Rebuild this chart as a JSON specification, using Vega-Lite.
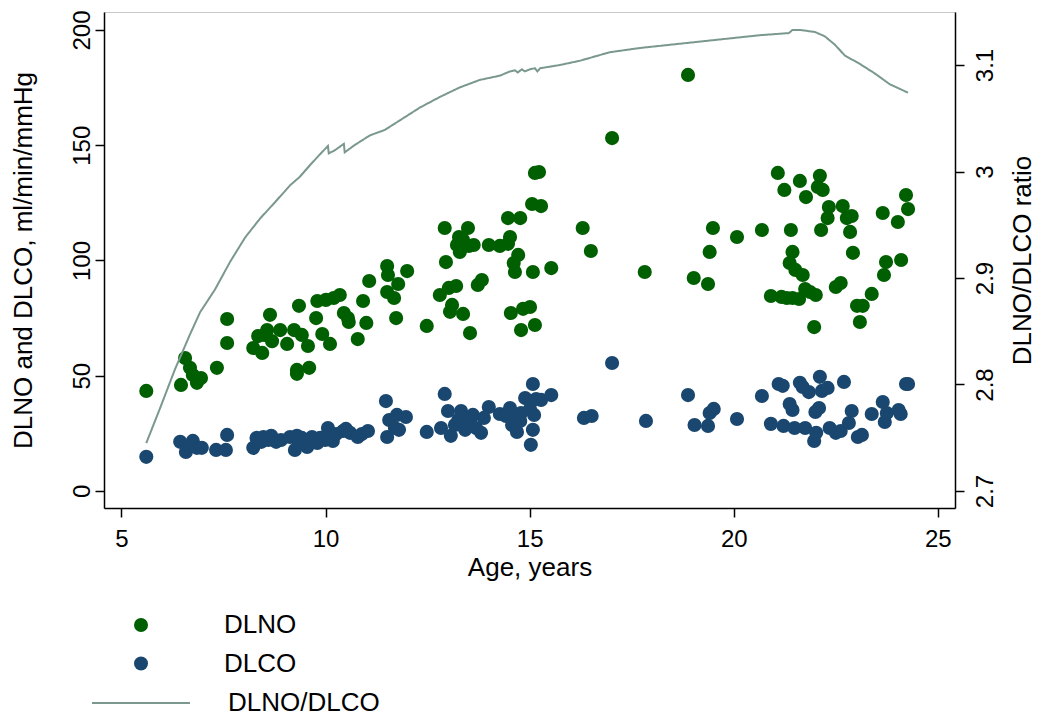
{
  "$schema": "https://vega.github.io/schema/vega-lite/v6.json",
  "width": 851,
  "height": 496,
  "autosize": {"type": "none"},
  "padding": {"left": 104, "top": 12, "right": 87, "bottom": 212},
  "background": "white",
  "config": {
    "font": "Liberation Sans",
    "view": {"stroke": "#c8c8c8", "strokeWidth": 1},
    "axis": {
      "grid": false,
      "domainColor": "black",
      "domainWidth": 1.5,
      "tickColor": "black",
      "tickWidth": 1.5,
      "tickSize": 9,
      "labelColor": "black",
      "titleColor": "black",
      "labelFont": "Liberation Sans",
      "titleFont": "Liberation Sans",
      "labelFontSize": 24,
      "titleFontSize": 26,
      "titleFontWeight": "normal"
    },
    "legend": {
      "labelFont": "Liberation Sans",
      "labelFontSize": 26,
      "labelColor": "black",
      "padding": 0
    }
  },
  "datasets": {
    "pts": [
      {"age": 5.61, "value": 43.4, "series": "DLNO"},
      {"age": 6.46, "value": 46.0, "series": "DLNO"},
      {"age": 6.56, "value": 57.7, "series": "DLNO"},
      {"age": 6.68, "value": 53.4, "series": "DLNO"},
      {"age": 6.75, "value": 50.3, "series": "DLNO"},
      {"age": 6.85, "value": 46.9, "series": "DLNO"},
      {"age": 6.95, "value": 49.0, "series": "DLNO"},
      {"age": 7.34, "value": 53.4, "series": "DLNO"},
      {"age": 7.59, "value": 64.2, "series": "DLNO"},
      {"age": 7.59, "value": 74.6, "series": "DLNO"},
      {"age": 8.23, "value": 62.0, "series": "DLNO"},
      {"age": 8.35, "value": 67.2, "series": "DLNO"},
      {"age": 8.45, "value": 59.9, "series": "DLNO"},
      {"age": 8.50, "value": 67.7, "series": "DLNO"},
      {"age": 8.57, "value": 69.8, "series": "DLNO"},
      {"age": 8.64, "value": 76.4, "series": "DLNO"},
      {"age": 8.69, "value": 65.0, "series": "DLNO"},
      {"age": 8.89, "value": 69.8, "series": "DLNO"},
      {"age": 9.06, "value": 63.8, "series": "DLNO"},
      {"age": 9.23, "value": 69.8, "series": "DLNO"},
      {"age": 9.30, "value": 52.5, "series": "DLNO"},
      {"age": 9.30, "value": 50.8, "series": "DLNO"},
      {"age": 9.35, "value": 80.3, "series": "DLNO"},
      {"age": 9.42, "value": 67.7, "series": "DLNO"},
      {"age": 9.57, "value": 62.9, "series": "DLNO"},
      {"age": 9.60, "value": 53.4, "series": "DLNO"},
      {"age": 9.77, "value": 75.0, "series": "DLNO"},
      {"age": 9.80, "value": 82.4, "series": "DLNO"},
      {"age": 9.92, "value": 68.1, "series": "DLNO"},
      {"age": 10.01, "value": 82.9, "series": "DLNO"},
      {"age": 10.11, "value": 63.8, "series": "DLNO"},
      {"age": 10.20, "value": 83.7, "series": "DLNO"},
      {"age": 10.35, "value": 85.0, "series": "DLNO"},
      {"age": 10.45, "value": 77.2, "series": "DLNO"},
      {"age": 10.55, "value": 75.0, "series": "DLNO"},
      {"age": 10.57, "value": 73.3, "series": "DLNO"},
      {"age": 10.79, "value": 65.9, "series": "DLNO"},
      {"age": 10.92, "value": 82.4, "series": "DLNO"},
      {"age": 11.00, "value": 72.9, "series": "DLNO"},
      {"age": 11.07, "value": 91.1, "series": "DLNO"},
      {"age": 11.51, "value": 97.6, "series": "DLNO"},
      {"age": 11.51, "value": 86.3, "series": "DLNO"},
      {"age": 11.53, "value": 93.7, "series": "DLNO"},
      {"age": 11.68, "value": 83.7, "series": "DLNO"},
      {"age": 11.73, "value": 75.0, "series": "DLNO"},
      {"age": 11.78, "value": 89.8, "series": "DLNO"},
      {"age": 12.00, "value": 95.4, "series": "DLNO"},
      {"age": 12.48, "value": 71.6, "series": "DLNO"},
      {"age": 12.80, "value": 85.0, "series": "DLNO"},
      {"age": 12.92, "value": 114.1, "series": "DLNO"},
      {"age": 12.95, "value": 99.3, "series": "DLNO"},
      {"age": 13.02, "value": 88.1, "series": "DLNO"},
      {"age": 13.05, "value": 77.7, "series": "DLNO"},
      {"age": 13.10, "value": 80.7, "series": "DLNO"},
      {"age": 13.20, "value": 88.9, "series": "DLNO"},
      {"age": 13.22, "value": 106.7, "series": "DLNO"},
      {"age": 13.27, "value": 110.2, "series": "DLNO"},
      {"age": 13.29, "value": 103.7, "series": "DLNO"},
      {"age": 13.37, "value": 108.9, "series": "DLNO"},
      {"age": 13.37, "value": 76.8, "series": "DLNO"},
      {"age": 13.49, "value": 114.1, "series": "DLNO"},
      {"age": 13.51, "value": 106.3, "series": "DLNO"},
      {"age": 13.54, "value": 68.5, "series": "DLNO"},
      {"age": 13.63, "value": 106.7, "series": "DLNO"},
      {"age": 13.73, "value": 89.4, "series": "DLNO"},
      {"age": 13.83, "value": 91.5, "series": "DLNO"},
      {"age": 14.00, "value": 106.7, "series": "DLNO"},
      {"age": 14.27, "value": 106.3, "series": "DLNO"},
      {"age": 14.47, "value": 107.2, "series": "DLNO"},
      {"age": 14.47, "value": 118.4, "series": "DLNO"},
      {"age": 14.52, "value": 110.2, "series": "DLNO"},
      {"age": 14.54, "value": 77.2, "series": "DLNO"},
      {"age": 14.61, "value": 98.9, "series": "DLNO"},
      {"age": 14.64, "value": 95.0, "series": "DLNO"},
      {"age": 14.72, "value": 102.4, "series": "DLNO"},
      {"age": 14.77, "value": 118.4, "series": "DLNO"},
      {"age": 14.79, "value": 69.8, "series": "DLNO"},
      {"age": 14.84, "value": 79.0, "series": "DLNO"},
      {"age": 15.01, "value": 79.8, "series": "DLNO"},
      {"age": 15.06, "value": 124.5, "series": "DLNO"},
      {"age": 15.08, "value": 95.0, "series": "DLNO"},
      {"age": 15.13, "value": 72.0, "series": "DLNO"},
      {"age": 15.13, "value": 138.0, "series": "DLNO"},
      {"age": 15.23, "value": 138.4, "series": "DLNO"},
      {"age": 15.28, "value": 123.6, "series": "DLNO"},
      {"age": 15.53, "value": 96.7, "series": "DLNO"},
      {"age": 16.30, "value": 114.1, "series": "DLNO"},
      {"age": 16.50, "value": 104.1, "series": "DLNO"},
      {"age": 17.02, "value": 153.1, "series": "DLNO"},
      {"age": 17.82, "value": 95.0, "series": "DLNO"},
      {"age": 18.88, "value": 180.5, "series": "DLNO"},
      {"age": 19.02, "value": 92.4, "series": "DLNO"},
      {"age": 19.37, "value": 89.8, "series": "DLNO"},
      {"age": 19.41, "value": 103.7, "series": "DLNO"},
      {"age": 19.49, "value": 114.1, "series": "DLNO"},
      {"age": 20.08, "value": 110.2, "series": "DLNO"},
      {"age": 20.69, "value": 113.2, "series": "DLNO"},
      {"age": 20.91, "value": 84.6, "series": "DLNO"},
      {"age": 21.08, "value": 138.0, "series": "DLNO"},
      {"age": 21.17, "value": 84.2, "series": "DLNO"},
      {"age": 21.24, "value": 130.6, "series": "DLNO"},
      {"age": 21.30, "value": 83.7, "series": "DLNO"},
      {"age": 21.37, "value": 98.9, "series": "DLNO"},
      {"age": 21.40, "value": 113.2, "series": "DLNO"},
      {"age": 21.44, "value": 103.7, "series": "DLNO"},
      {"age": 21.44, "value": 83.7, "series": "DLNO"},
      {"age": 21.51, "value": 95.9, "series": "DLNO"},
      {"age": 21.60, "value": 83.3, "series": "DLNO"},
      {"age": 21.62, "value": 134.5, "series": "DLNO"},
      {"age": 21.69, "value": 93.7, "series": "DLNO"},
      {"age": 21.77, "value": 127.5, "series": "DLNO"},
      {"age": 21.75, "value": 87.6, "series": "DLNO"},
      {"age": 21.87, "value": 86.3, "series": "DLNO"},
      {"age": 21.97, "value": 71.1, "series": "DLNO"},
      {"age": 22.01, "value": 85.0, "series": "DLNO"},
      {"age": 22.06, "value": 131.9, "series": "DLNO"},
      {"age": 22.11, "value": 136.7, "series": "DLNO"},
      {"age": 22.14, "value": 113.2, "series": "DLNO"},
      {"age": 22.18, "value": 130.6, "series": "DLNO"},
      {"age": 22.30, "value": 118.4, "series": "DLNO"},
      {"age": 22.33, "value": 123.2, "series": "DLNO"},
      {"age": 22.50, "value": 88.5, "series": "DLNO"},
      {"age": 22.62, "value": 90.2, "series": "DLNO"},
      {"age": 22.67, "value": 123.6, "series": "DLNO"},
      {"age": 22.77, "value": 118.4, "series": "DLNO"},
      {"age": 22.85, "value": 112.4, "series": "DLNO"},
      {"age": 22.89, "value": 119.3, "series": "DLNO"},
      {"age": 22.92, "value": 103.3, "series": "DLNO"},
      {"age": 23.02, "value": 80.3, "series": "DLNO"},
      {"age": 23.09, "value": 73.3, "series": "DLNO"},
      {"age": 23.16, "value": 80.3, "series": "DLNO"},
      {"age": 23.38, "value": 85.5, "series": "DLNO"},
      {"age": 23.65, "value": 120.6, "series": "DLNO"},
      {"age": 23.68, "value": 93.7, "series": "DLNO"},
      {"age": 23.73, "value": 99.3, "series": "DLNO"},
      {"age": 24.02, "value": 116.7, "series": "DLNO"},
      {"age": 24.10, "value": 100.2, "series": "DLNO"},
      {"age": 24.22, "value": 128.4, "series": "DLNO"},
      {"age": 24.27, "value": 122.3, "series": "DLNO"},
      {"age": 5.61, "value": 14.8, "series": "DLCO"},
      {"age": 6.44, "value": 21.3, "series": "DLCO"},
      {"age": 6.58, "value": 16.9, "series": "DLCO"},
      {"age": 6.68, "value": 19.5, "series": "DLCO"},
      {"age": 6.75, "value": 21.7, "series": "DLCO"},
      {"age": 6.85, "value": 18.7, "series": "DLCO"},
      {"age": 6.97, "value": 18.7, "series": "DLCO"},
      {"age": 7.32, "value": 17.8, "series": "DLCO"},
      {"age": 7.56, "value": 17.8, "series": "DLCO"},
      {"age": 7.59, "value": 24.3, "series": "DLCO"},
      {"age": 8.23, "value": 18.7, "series": "DLCO"},
      {"age": 8.31, "value": 23.0, "series": "DLCO"},
      {"age": 8.43, "value": 21.3, "series": "DLCO"},
      {"age": 8.48, "value": 23.4, "series": "DLCO"},
      {"age": 8.60, "value": 22.1, "series": "DLCO"},
      {"age": 8.67, "value": 23.9, "series": "DLCO"},
      {"age": 8.79, "value": 21.3, "series": "DLCO"},
      {"age": 8.91, "value": 22.1, "series": "DLCO"},
      {"age": 9.13, "value": 23.4, "series": "DLCO"},
      {"age": 9.25, "value": 17.8, "series": "DLCO"},
      {"age": 9.30, "value": 23.9, "series": "DLCO"},
      {"age": 9.35, "value": 20.8, "series": "DLCO"},
      {"age": 9.42, "value": 23.0, "series": "DLCO"},
      {"age": 9.55, "value": 19.1, "series": "DLCO"},
      {"age": 9.67, "value": 23.4, "series": "DLCO"},
      {"age": 9.80, "value": 20.8, "series": "DLCO"},
      {"age": 9.87, "value": 23.0, "series": "DLCO"},
      {"age": 9.99, "value": 22.1, "series": "DLCO"},
      {"age": 10.06, "value": 27.3, "series": "DLCO"},
      {"age": 10.18, "value": 21.7, "series": "DLCO"},
      {"age": 10.26, "value": 24.7, "series": "DLCO"},
      {"age": 10.43, "value": 26.0, "series": "DLCO"},
      {"age": 10.50, "value": 26.9, "series": "DLCO"},
      {"age": 10.60, "value": 25.2, "series": "DLCO"},
      {"age": 10.79, "value": 23.4, "series": "DLCO"},
      {"age": 10.89, "value": 24.7, "series": "DLCO"},
      {"age": 11.04, "value": 26.0, "series": "DLCO"},
      {"age": 11.48, "value": 39.0, "series": "DLCO"},
      {"age": 11.51, "value": 23.4, "series": "DLCO"},
      {"age": 11.56, "value": 30.8, "series": "DLCO"},
      {"age": 11.70, "value": 27.3, "series": "DLCO"},
      {"age": 11.75, "value": 33.0, "series": "DLCO"},
      {"age": 11.80, "value": 26.5, "series": "DLCO"},
      {"age": 11.97, "value": 32.1, "series": "DLCO"},
      {"age": 12.48, "value": 25.6, "series": "DLCO"},
      {"age": 12.83, "value": 27.3, "series": "DLCO"},
      {"age": 12.92, "value": 42.1, "series": "DLCO"},
      {"age": 13.00, "value": 34.7, "series": "DLCO"},
      {"age": 13.07, "value": 23.9, "series": "DLCO"},
      {"age": 13.17, "value": 28.6, "series": "DLCO"},
      {"age": 13.25, "value": 30.8, "series": "DLCO"},
      {"age": 13.32, "value": 34.7, "series": "DLCO"},
      {"age": 13.42, "value": 26.5, "series": "DLCO"},
      {"age": 13.54, "value": 30.8, "series": "DLCO"},
      {"age": 13.61, "value": 33.0, "series": "DLCO"},
      {"age": 13.69, "value": 27.3, "series": "DLCO"},
      {"age": 13.81, "value": 25.2, "series": "DLCO"},
      {"age": 13.88, "value": 31.7, "series": "DLCO"},
      {"age": 14.00, "value": 36.4, "series": "DLCO"},
      {"age": 14.27, "value": 33.4, "series": "DLCO"},
      {"age": 14.42, "value": 32.5, "series": "DLCO"},
      {"age": 14.52, "value": 36.0, "series": "DLCO"},
      {"age": 14.57, "value": 28.6, "series": "DLCO"},
      {"age": 14.61, "value": 31.7, "series": "DLCO"},
      {"age": 14.69, "value": 25.6, "series": "DLCO"},
      {"age": 14.77, "value": 30.4, "series": "DLCO"},
      {"age": 14.79, "value": 33.8, "series": "DLCO"},
      {"age": 14.89, "value": 40.3, "series": "DLCO"},
      {"age": 15.01, "value": 35.6, "series": "DLCO"},
      {"age": 15.08, "value": 46.4, "series": "DLCO"},
      {"age": 15.11, "value": 33.0, "series": "DLCO"},
      {"age": 15.08, "value": 26.5, "series": "DLCO"},
      {"age": 15.03, "value": 20.0, "series": "DLCO"},
      {"age": 15.16, "value": 39.9, "series": "DLCO"},
      {"age": 15.28, "value": 39.5, "series": "DLCO"},
      {"age": 15.53, "value": 41.6, "series": "DLCO"},
      {"age": 16.33, "value": 31.7, "series": "DLCO"},
      {"age": 16.52, "value": 32.5, "series": "DLCO"},
      {"age": 17.02, "value": 55.5, "series": "DLCO"},
      {"age": 17.85, "value": 30.4, "series": "DLCO"},
      {"age": 18.88, "value": 41.6, "series": "DLCO"},
      {"age": 19.04, "value": 28.6, "series": "DLCO"},
      {"age": 19.37, "value": 28.2, "series": "DLCO"},
      {"age": 19.41, "value": 33.8, "series": "DLCO"},
      {"age": 19.51, "value": 35.6, "series": "DLCO"},
      {"age": 20.08, "value": 31.2, "series": "DLCO"},
      {"age": 20.69, "value": 41.2, "series": "DLCO"},
      {"age": 20.91, "value": 29.1, "series": "DLCO"},
      {"age": 21.10, "value": 46.4, "series": "DLCO"},
      {"age": 21.20, "value": 45.6, "series": "DLCO"},
      {"age": 21.22, "value": 28.2, "series": "DLCO"},
      {"age": 21.37, "value": 37.7, "series": "DLCO"},
      {"age": 21.44, "value": 35.1, "series": "DLCO"},
      {"age": 21.49, "value": 27.3, "series": "DLCO"},
      {"age": 21.62, "value": 46.9, "series": "DLCO"},
      {"age": 21.69, "value": 45.1, "series": "DLCO"},
      {"age": 21.75, "value": 27.3, "series": "DLCO"},
      {"age": 21.84, "value": 42.9, "series": "DLCO"},
      {"age": 21.97, "value": 21.7, "series": "DLCO"},
      {"age": 22.00, "value": 34.3, "series": "DLCO"},
      {"age": 22.02, "value": 25.2, "series": "DLCO"},
      {"age": 22.09, "value": 36.0, "series": "DLCO"},
      {"age": 22.11, "value": 49.5, "series": "DLCO"},
      {"age": 22.16, "value": 43.4, "series": "DLCO"},
      {"age": 22.30, "value": 44.7, "series": "DLCO"},
      {"age": 22.35, "value": 27.3, "series": "DLCO"},
      {"age": 22.50, "value": 25.2, "series": "DLCO"},
      {"age": 22.62, "value": 26.0, "series": "DLCO"},
      {"age": 22.70, "value": 47.3, "series": "DLCO"},
      {"age": 22.82, "value": 29.5, "series": "DLCO"},
      {"age": 22.89, "value": 34.7, "series": "DLCO"},
      {"age": 23.04, "value": 23.4, "series": "DLCO"},
      {"age": 23.14, "value": 24.3, "series": "DLCO"},
      {"age": 23.38, "value": 33.4, "series": "DLCO"},
      {"age": 23.65, "value": 38.6, "series": "DLCO"},
      {"age": 23.70, "value": 29.9, "series": "DLCO"},
      {"age": 23.75, "value": 33.8, "series": "DLCO"},
      {"age": 24.04, "value": 35.1, "series": "DLCO"},
      {"age": 24.09, "value": 33.4, "series": "DLCO"},
      {"age": 24.22, "value": 46.4, "series": "DLCO"},
      {"age": 24.27, "value": 46.4, "series": "DLCO"}
    ],
    "ratio": [
      {"age": 5.61, "ratio": 2.745},
      {"age": 5.95, "ratio": 2.778},
      {"age": 6.31, "ratio": 2.814},
      {"age": 6.68, "ratio": 2.847},
      {"age": 6.93, "ratio": 2.868},
      {"age": 7.29, "ratio": 2.889},
      {"age": 7.66, "ratio": 2.915},
      {"age": 8.03, "ratio": 2.938},
      {"age": 8.40, "ratio": 2.956},
      {"age": 8.76, "ratio": 2.971},
      {"age": 9.13, "ratio": 2.987},
      {"age": 9.37, "ratio": 2.995},
      {"age": 9.62, "ratio": 3.006},
      {"age": 9.86, "ratio": 3.016},
      {"age": 10.06, "ratio": 3.024},
      {"age": 10.08, "ratio": 3.017},
      {"age": 10.23, "ratio": 3.020},
      {"age": 10.45, "ratio": 3.026},
      {"age": 10.47, "ratio": 3.018},
      {"age": 10.72, "ratio": 3.025},
      {"age": 11.09, "ratio": 3.034},
      {"age": 11.45, "ratio": 3.039},
      {"age": 11.82, "ratio": 3.048},
      {"age": 12.31, "ratio": 3.060},
      {"age": 12.80, "ratio": 3.070},
      {"age": 13.29, "ratio": 3.079},
      {"age": 13.78, "ratio": 3.086},
      {"age": 14.27, "ratio": 3.090},
      {"age": 14.52, "ratio": 3.094},
      {"age": 14.64, "ratio": 3.095},
      {"age": 14.71, "ratio": 3.093},
      {"age": 14.81, "ratio": 3.096},
      {"age": 14.88, "ratio": 3.094},
      {"age": 15.01, "ratio": 3.096},
      {"age": 15.13, "ratio": 3.097},
      {"age": 15.19, "ratio": 3.094},
      {"age": 15.26, "ratio": 3.097},
      {"age": 15.74, "ratio": 3.100},
      {"age": 16.23, "ratio": 3.104},
      {"age": 16.96, "ratio": 3.112},
      {"age": 17.70, "ratio": 3.116},
      {"age": 18.68, "ratio": 3.120},
      {"age": 19.17, "ratio": 3.122},
      {"age": 19.90, "ratio": 3.125},
      {"age": 20.64, "ratio": 3.128},
      {"age": 21.35, "ratio": 3.130},
      {"age": 21.44, "ratio": 3.133},
      {"age": 21.62, "ratio": 3.133},
      {"age": 21.99, "ratio": 3.131},
      {"age": 22.23, "ratio": 3.127},
      {"age": 22.48, "ratio": 3.119},
      {"age": 22.72, "ratio": 3.109},
      {"age": 23.09, "ratio": 3.101},
      {"age": 23.46, "ratio": 3.092},
      {"age": 23.82, "ratio": 3.082},
      {"age": 24.27, "ratio": 3.074}
    ]
  },
  "layer": [
    {
      "data": {"name": "pts"},
      "mark": {"type": "point", "filled": true, "size": 200, "opacity": 1},
      "encoding": {
        "x": {
          "field": "age", "type": "quantitative",
          "scale": {"domain": [4.574, 25.42], "nice": false, "zero": false},
          "axis": {"values": [5, 10, 15, 20, 25], "title": "Age, years", "labelPadding": 10, "titlePadding": 3}
        },
        "y": {
          "field": "value", "type": "quantitative",
          "scale": {"domain": [-7.4, 207.8], "nice": false, "zero": false},
          "axis": {"values": [0, 50, 100, 150, 200], "title": "DLNO and DLCO, ml/min/mmHg", "labelAngle": -90, "labelPadding": 1, "titlePadding": 34}
        },
        "color": {
          "field": "series", "type": "nominal",
          "scale": {"domain": ["DLNO", "DLCO"], "range": ["#005f00", "#1a476f"]},
          "legend": {
            "title": null,
            "orient": "none",
            "legendX": 24,
            "legendY": 600,
            "symbolSize": 196,
            "symbolType": "circle",
            "symbolOpacity": 1,
            "labelOffset": 70,
            "rowPadding": 12.5
          }
        }
      }
    },
    {
      "data": {"name": "ratio"},
      "mark": {"type": "line", "strokeWidth": 2, "interpolate": "linear", "color": "#7a988e"},
      "encoding": {
        "x": {"field": "age", "type": "quantitative"},
        "y": {
          "field": "ratio", "type": "quantitative",
          "scale": {"domain": [2.684, 3.1498], "nice": false, "zero": false},
          "axis": {"orient": "right", "values": [2.7, 2.8, 2.9, 3.0, 3.1], "format": "~g", "title": "DLNO/DLCO ratio", "labelAngle": -90, "titleAngle": -90, "titleBaseline": "top", "labelPadding": 9, "titlePadding": 12}
        },
        "strokeDash": {
          "datum": "DLNO/DLCO", "type": "nominal",
          "scale": {"domain": ["DLNO/DLCO"], "range": [[1, 0]]},
          "legend": {
            "title": null,
            "orient": "none",
            "legendX": -13,
            "legendY": 641,
            "symbolType": "stroke",
            "symbolSize": 9604,
            "symbolStrokeColor": "#7a988e",
            "symbolStrokeWidth": 2,
            "labelOffset": 37
          }
        }
      }
    }
  ],
  "resolve": {"scale": {"y": "independent"}}
}
